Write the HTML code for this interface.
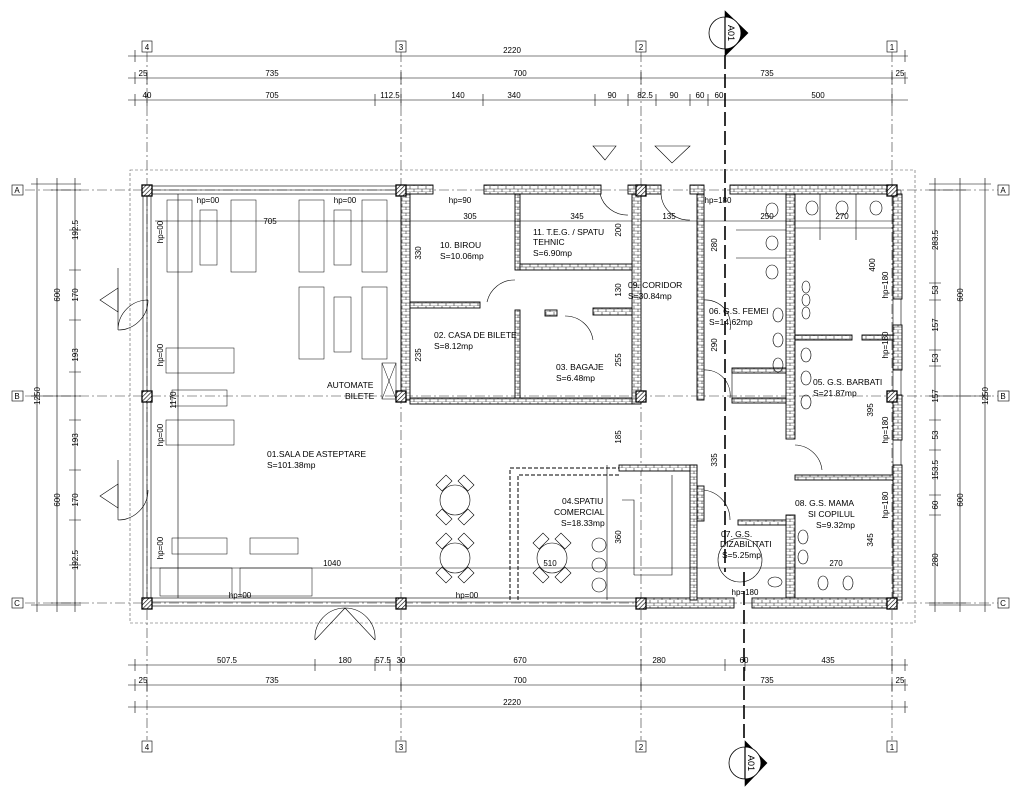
<!DOCTYPE html>
<html><head><meta charset="utf-8"><style>
html,body{margin:0;padding:0;background:#fff;}
svg{display:block;font-family:"Liberation Sans",sans-serif;}
text{fill:#000;}
.t{font-size:8px;}
.r{font-size:8.5px;}
</style></head><body>
<svg width="1024" height="799" viewBox="0 0 1024 799" xmlns="http://www.w3.org/2000/svg">
<defs>
<pattern id="br" width="8" height="6" patternUnits="userSpaceOnUse">
<rect width="8" height="6" fill="#fff"/>
<path d="M0 3H8M0 6H8M2 0V3M6 3V6" stroke="#333" stroke-width="0.6"/>
</pattern>
<pattern id="hc" width="3" height="3" patternUnits="userSpaceOnUse" patternTransform="rotate(45)">
<rect width="3" height="3" fill="#fff"/><line x1="0" y1="0" x2="0" y2="3" stroke="#000" stroke-width="1.2"/>
</pattern>
</defs>
<g stroke="#000" fill="none" stroke-width="0.6">
<g stroke-dasharray="10,3,2,3" stroke-width="0.6" stroke="#333">
<line x1="147" y1="52" x2="147" y2="740"/><line x1="401" y1="52" x2="401" y2="740"/>
<line x1="641" y1="52" x2="641" y2="740"/><line x1="892" y1="52" x2="892" y2="740"/>
<line x1="25" y1="190" x2="1000" y2="190"/><line x1="25" y1="396" x2="1000" y2="396"/><line x1="25" y1="603" x2="1000" y2="603"/>
</g>
<line x1="725" y1="55" x2="725" y2="572" stroke-dasharray="14,5" stroke-width="1.6"/>
<line x1="744" y1="572" x2="744" y2="742" stroke-dasharray="14,5" stroke-width="1.6"/>
<rect x="130" y="170" width="785" height="453" stroke-dasharray="3,2" stroke="#555"/>
<line x1="128" y1="56" x2="908" y2="56"/><line x1="128" y1="78" x2="908" y2="78"/><line x1="128" y1="100" x2="908" y2="100"/>
<line x1="128" y1="665" x2="908" y2="665"/><line x1="128" y1="685" x2="908" y2="685"/><line x1="128" y1="707" x2="908" y2="707"/>
<g stroke-width="0.6">
<path d="M135 50V62M905 50V62M135 72V84M147 72V84M401 72V84M641 72V84M892 72V84M905 72V84"/>
<path d="M135 94V106M147 94V106M375 94V106M401 94V106M483 94V106M595 94V106M628 94V106M656 94V106M690 94V106M708 94V106M725 94V106M892 94V106"/>
<path d="M135 659V671M315 659V671M375 659V671M390 659V671M401 659V671M641 659V671M725 659V671M745 659V671M892 659V671M905 659V671"/>
<path d="M135 679V691M147 679V691M401 679V691M641 679V691M892 679V691M905 679V691M135 701V713M905 701V713"/>
</g>
<line x1="37" y1="178" x2="37" y2="612"/><line x1="57" y1="178" x2="57" y2="612"/><line x1="75" y1="178" x2="75" y2="612"/>
<line x1="985" y1="178" x2="985" y2="612"/><line x1="960" y1="178" x2="960" y2="612"/><line x1="935" y1="178" x2="935" y2="612"/>
<path d="M31 184H81M31 396H81M31 605H81M51 190H81M51 603H81M69 230H81M69 270H81M69 320H81M69 372H81M69 420H81M69 470H81M69 520H81M69 565H81"/>
<path d="M929 184H991M929 396H991M929 605H991M929 190H966M929 603H966M929 283H941M929 300H941M929 350H941M929 366H941M929 420H941M929 450H941M929 495H941M929 515H941"/>
<g fill="#fff"><rect x="142" y="41" width="10" height="11"/><rect x="396" y="41" width="10" height="11"/><rect x="636" y="41" width="10" height="11"/><rect x="887" y="41" width="10" height="11"/>
<rect x="142" y="741" width="10" height="11"/><rect x="396" y="741" width="10" height="11"/><rect x="636" y="741" width="10" height="11"/><rect x="887" y="741" width="10" height="11"/>
<rect x="12" y="185" width="11" height="10"/><rect x="12" y="391" width="11" height="10"/><rect x="12" y="598" width="11" height="10"/>
<rect x="998" y="185" width="11" height="10"/><rect x="998" y="391" width="11" height="10"/><rect x="998" y="598" width="11" height="10"/></g>
<!-- section markers -->
<path d="M725 11L748 33L725 56Z" fill="#000"/><circle cx="725" cy="33" r="16" fill="#fff" stroke-width="0.8"/><line x1="725" y1="17" x2="725" y2="49" stroke-width="1.2"/>
<path d="M745 741L767 763L745 786Z" fill="#000"/><circle cx="745" cy="763" r="16" fill="#fff" stroke-width="0.8"/><line x1="745" y1="747" x2="745" y2="779" stroke-width="1.2"/>
<path d="M593 146L616 146L605 160Z M655 146L690 146L672 163Z"/>
<path d="M100 300L118 288L118 312Z M100 496L118 484L118 508Z"/>
<rect x="147" y="186" width="254" height="8"/><line x1="147" y1="190" x2="401" y2="190"/>
<rect x="143" y="190" width="8" height="410"/><line x1="147" y1="190" x2="147" y2="600"/>
<rect x="147" y="598" width="494" height="8"/><line x1="147" y1="602" x2="641" y2="602"/>
<rect x="893" y="190" width="8" height="410"/>
<g fill="url(#br)" stroke-width="0.9">
<rect x="401" y="185" width="32" height="9"/><rect x="484" y="185" width="117" height="9"/><rect x="628" y="185" width="13" height="9"/>
<rect x="641" y="185" width="20" height="9"/><rect x="690" y="185" width="14" height="9"/><rect x="730" y="185" width="167" height="9"/>
<rect x="401" y="194" width="9" height="206"/><rect x="632" y="194" width="9" height="210"/>
<rect x="410" y="302" width="70" height="6"/><rect x="515" y="194" width="5" height="76"/><rect x="520" y="264" width="112" height="6"/>
<rect x="515" y="310" width="5" height="90"/><rect x="545" y="310" width="12" height="6"/><rect x="593" y="308" width="39" height="7"/>
<rect x="410" y="398" width="222" height="6"/>
<rect x="697" y="194" width="7" height="206"/><rect x="697" y="486" width="7" height="35"/>
<rect x="786" y="194" width="9" height="245"/><rect x="893" y="194" width="9" height="105"/><rect x="893" y="325" width="9" height="45"/><rect x="893" y="395" width="9" height="45"/><rect x="893" y="465" width="9" height="135"/>
<rect x="732" y="368" width="54" height="5"/><rect x="732" y="398" width="54" height="5"/><rect x="795" y="335" width="57" height="5"/><rect x="862" y="335" width="31" height="5"/>
<rect x="786" y="515" width="9" height="85"/><rect x="795" y="475" width="98" height="5"/><rect x="738" y="520" width="48" height="5"/>
<rect x="641" y="598" width="93" height="10"/><rect x="752" y="598" width="145" height="10"/>
<rect x="619" y="465" width="78" height="6"/><rect x="690" y="465" width="7" height="135"/>
</g>
<g fill="url(#hc)" stroke-width="1.3">
<rect x="142" y="185" width="10" height="11"/><rect x="396" y="185" width="10" height="11"/><rect x="636" y="185" width="10" height="11"/><rect x="887" y="185" width="10" height="11"/>
<rect x="142" y="391" width="10" height="11"/><rect x="396" y="391" width="10" height="11"/><rect x="636" y="391" width="10" height="11"/><rect x="887" y="391" width="10" height="11"/>
<rect x="142" y="598" width="10" height="11"/><rect x="396" y="598" width="10" height="11"/><rect x="636" y="598" width="10" height="11"/><rect x="887" y="598" width="10" height="11"/>
</g>
<line x1="155" y1="221" x2="632" y2="221"/><line x1="641" y1="221" x2="893" y2="221"/>
<line x1="150" y1="568" x2="705" y2="568"/><line x1="705" y1="568" x2="893" y2="568"/>
<line x1="178" y1="194" x2="178" y2="598"/>
<path d="M118 268V330A30 30 0 0 1 148 300 M118 330A30 30 0 0 0 148 300 M118 460V520 M118 520A30 30 0 0 0 148 490"/>
<path d="M345 608L315 640 M345 608L375 640 M315 640A30 30 0 0 1 345 608 M375 640A30 30 0 0 0 345 608"/>
<path d="M515 280A28 28 0 0 0 487 302 M565 316A28 28 0 0 1 593 340 M600 194A28 28 0 0 0 628 215 M661 194A28 28 0 0 0 690 220 M704 300A25 25 0 0 1 730 330 M704 370A25 25 0 0 1 730 398 M795 445A28 28 0 0 1 822 470 M704 490A30 30 0 0 1 730 520"/>
<path d="M736 230H786 M736 258H786 M795 228H893 M820 194V240 M856 194V240 M732 373V400"/>
<g>
<ellipse cx="772" cy="210" rx="6" ry="7"/><ellipse cx="772" cy="243" rx="6" ry="7"/><ellipse cx="772" cy="272" rx="6" ry="7"/>
<ellipse cx="812" cy="208" rx="6" ry="7"/><ellipse cx="842" cy="208" rx="6" ry="7"/><ellipse cx="876" cy="208" rx="6" ry="7"/>
<ellipse cx="806" cy="287" rx="4" ry="6"/><ellipse cx="806" cy="300" rx="4" ry="6"/><ellipse cx="806" cy="313" rx="4" ry="6"/>
<ellipse cx="778" cy="315" rx="5" ry="7"/><ellipse cx="778" cy="340" rx="5" ry="7"/><ellipse cx="778" cy="365" rx="5" ry="7"/>
<ellipse cx="806" cy="355" rx="5" ry="7"/><ellipse cx="806" cy="378" rx="5" ry="7"/><ellipse cx="806" cy="402" rx="5" ry="7"/>
<ellipse cx="803" cy="537" rx="5" ry="7"/><ellipse cx="803" cy="557" rx="5" ry="7"/>
<ellipse cx="823" cy="583" rx="5" ry="7"/><ellipse cx="848" cy="583" rx="5" ry="7"/><ellipse cx="775" cy="582" rx="7" ry="5"/>
<circle cx="740" cy="560" r="22"/>
</g>
<path d="M510 600V468H619 M518 600V475H619" stroke-dasharray="4,2" stroke-width="1"/>
<path d="M607 465V600 M622 500H634V575 M672 475V575H634"/>
<circle cx="599" cy="545" r="7"/><circle cx="599" cy="565" r="7"/><circle cx="599" cy="585" r="7"/>
<g stroke-width="0.5">
<rect x="167" y="200" width="25" height="72"/><rect x="200" y="210" width="17" height="55"/><rect x="231" y="200" width="25" height="72"/>
<rect x="299" y="200" width="25" height="72"/><rect x="334" y="210" width="17" height="55"/><rect x="362" y="200" width="25" height="72"/>
<rect x="299" y="287" width="25" height="72"/><rect x="334" y="297" width="17" height="55"/><rect x="362" y="287" width="25" height="72"/>
<rect x="166" y="348" width="68" height="25"/><rect x="172" y="390" width="55" height="16"/><rect x="166" y="420" width="68" height="25"/>
<rect x="172" y="538" width="55" height="16"/><rect x="250" y="538" width="48" height="16"/>
<rect x="160" y="568" width="72" height="28"/><rect x="240" y="568" width="72" height="28"/>
<rect x="382" y="363" width="14" height="36"/><path d="M382 363L396 399M396 363L382 399"/>
</g>
<g>
<circle cx="455" cy="500" r="15"/><circle cx="455" cy="558" r="15"/><circle cx="552" cy="558" r="15"/>
<path d="M436 485l10-10 6 6-10 10z M474 485l-10-10-6 6 10 10z M436 515l10 10 6-6-10-10z M474 515l-10 10-6-6 10-10z"/>
<path d="M436 543l10-10 6 6-10 10z M474 543l-10-10-6 6 10 10z M436 573l10 10 6-6-10-10z M474 573l-10 10-6-6 10-10z"/>
<path d="M533 543l10-10 6 6-10 10z M571 543l-10-10-6 6 10 10z M533 573l10 10 6-6-10-10z M571 573l-10 10-6-6 10-10z"/>
</g>
</g>
<g class="t" text-anchor="middle">
<text x="512" y="53">2220</text>
<text x="143" y="76">25</text><text x="272" y="76">735</text><text x="520" y="76">700</text><text x="767" y="76">735</text><text x="900" y="76">25</text>
<text x="147" y="98">40</text><text x="272" y="98">705</text><text x="390" y="98">112.5</text><text x="458" y="98">140</text><text x="514" y="98">340</text><text x="612" y="98">90</text><text x="645" y="98">82.5</text><text x="674" y="98">90</text><text x="700" y="98">60</text><text x="719" y="98">60</text><text x="818" y="98">500</text>
<text x="227" y="663">507.5</text><text x="345" y="663">180</text><text x="383" y="663">57.5</text><text x="401" y="663">30</text><text x="520" y="663">670</text><text x="659" y="663">280</text><text x="744" y="663">60</text><text x="828" y="663">435</text>
<text x="143" y="683">25</text><text x="272" y="683">735</text><text x="520" y="683">700</text><text x="767" y="683">735</text><text x="900" y="683">25</text>
<text x="512" y="705">2220</text>
<text x="147" y="50">4</text><text x="401" y="50">3</text><text x="641" y="50">2</text><text x="892" y="50">1</text>
<text x="147" y="750">4</text><text x="401" y="750">3</text><text x="641" y="750">2</text><text x="892" y="750">1</text>
<text x="17" y="193">A</text><text x="17" y="399">B</text><text x="17" y="606">C</text>
<text x="1003" y="193">A</text><text x="1003" y="399">B</text><text x="1003" y="606">C</text>
<text x="270" y="224">705</text><text x="470" y="219">305</text><text x="577" y="219">345</text><text x="669" y="219">135</text><text x="767" y="219">250</text><text x="842" y="219">270</text>
<text x="332" y="566">1040</text><text x="550" y="566">510</text><text x="836" y="566">270</text>
<text x="208" y="203">hp=00</text><text x="345" y="203">hp=00</text><text x="460" y="203">hp=90</text><text x="718" y="203">hp=180</text>
<text x="240" y="598">hp=00</text><text x="467" y="598">hp=00</text><text x="745" y="595">hp=180</text>
</g>
<g class="t" text-anchor="middle">
<text transform="translate(40,396) rotate(-90)">1250</text><text transform="translate(60,295) rotate(-90)">600</text><text transform="translate(60,500) rotate(-90)">600</text>
<text transform="translate(78,230) rotate(-90)">192.5</text><text transform="translate(78,295) rotate(-90)">170</text><text transform="translate(78,355) rotate(-90)">193</text><text transform="translate(78,440) rotate(-90)">193</text><text transform="translate(78,500) rotate(-90)">170</text><text transform="translate(78,560) rotate(-90)">192.5</text>
<text transform="translate(988,396) rotate(-90)">1250</text><text transform="translate(963,295) rotate(-90)">600</text><text transform="translate(963,500) rotate(-90)">600</text>
<text transform="translate(938,240) rotate(-90)">283.5</text><text transform="translate(938,290) rotate(-90)">53</text><text transform="translate(938,325) rotate(-90)">157</text><text transform="translate(938,358) rotate(-90)">53</text><text transform="translate(938,396) rotate(-90)">157</text><text transform="translate(938,435) rotate(-90)">53</text><text transform="translate(938,470) rotate(-90)">153.5</text><text transform="translate(938,505) rotate(-90)">60</text><text transform="translate(938,560) rotate(-90)">280</text>
<text transform="translate(163,232) rotate(-90)">hp=00</text><text transform="translate(163,355) rotate(-90)">hp=00</text><text transform="translate(163,435) rotate(-90)">hp=00</text><text transform="translate(163,548) rotate(-90)">hp=00</text>
<text transform="translate(176,400) rotate(-90)">1170</text>
<text transform="translate(421,253) rotate(-90)">330</text><text transform="translate(421,355) rotate(-90)">235</text><text transform="translate(621,230) rotate(-90)">200</text><text transform="translate(621,290) rotate(-90)">130</text><text transform="translate(621,360) rotate(-90)">255</text><text transform="translate(621,437) rotate(-90)">185</text><text transform="translate(621,537) rotate(-90)">360</text>
<text transform="translate(717,245) rotate(-90)">280</text><text transform="translate(717,345) rotate(-90)">290</text><text transform="translate(717,460) rotate(-90)">335</text>
<text transform="translate(875,265) rotate(-90)">400</text><text transform="translate(873,410) rotate(-90)">395</text><text transform="translate(873,540) rotate(-90)">345</text>
<text transform="translate(888,285) rotate(-90)">hp=180</text><text transform="translate(888,345) rotate(-90)">hp=180</text><text transform="translate(888,430) rotate(-90)">hp=180</text><text transform="translate(888,505) rotate(-90)">hp=180</text>
<text transform="translate(728,33) rotate(90)" font-size="9">A01</text><text transform="translate(748,763) rotate(90)" font-size="9">A01</text>
</g>
<g class="r">
<text x="440" y="248">10. BIROU</text><text x="440" y="259">S=10.06mp</text>
<text x="533" y="235">11. T.E.G. / SPATU</text><text x="533" y="245">TEHNIC</text><text x="533" y="256">S=6.90mp</text>
<text x="434" y="338">02. CASA DE BILETE</text><text x="434" y="349">S=8.12mp</text>
<text x="556" y="370">03. BAGAJE</text><text x="556" y="381">S=6.48mp</text>
<text x="628" y="288">09. CORIDOR</text><text x="628" y="299">S=30.84mp</text>
<text x="709" y="314">06. G.S. FEMEI</text><text x="709" y="325">S=14.62mp</text>
<text x="813" y="385">05. G.S. BARBATI</text><text x="813" y="396">S=21.87mp</text>
<text x="327" y="388">AUTOMATE</text><text x="345" y="399">BILETE</text>
<text x="267" y="457">01.SALA DE ASTEPTARE</text><text x="267" y="468">S=101.38mp</text>
<text x="562" y="504">04.SPATIU</text><text x="554" y="515">COMERCIAL</text><text x="561" y="526">S=18.33mp</text>
<text x="795" y="506">08. G.S. MAMA</text><text x="808" y="517">SI COPILUL</text><text x="816" y="528">S=9.32mp</text>
<text x="721" y="537">07. G.S.</text><text x="720" y="547">DIZABILITATI</text><text x="722" y="558">S=5.25mp</text>
</g>
</svg>
</body></html>
